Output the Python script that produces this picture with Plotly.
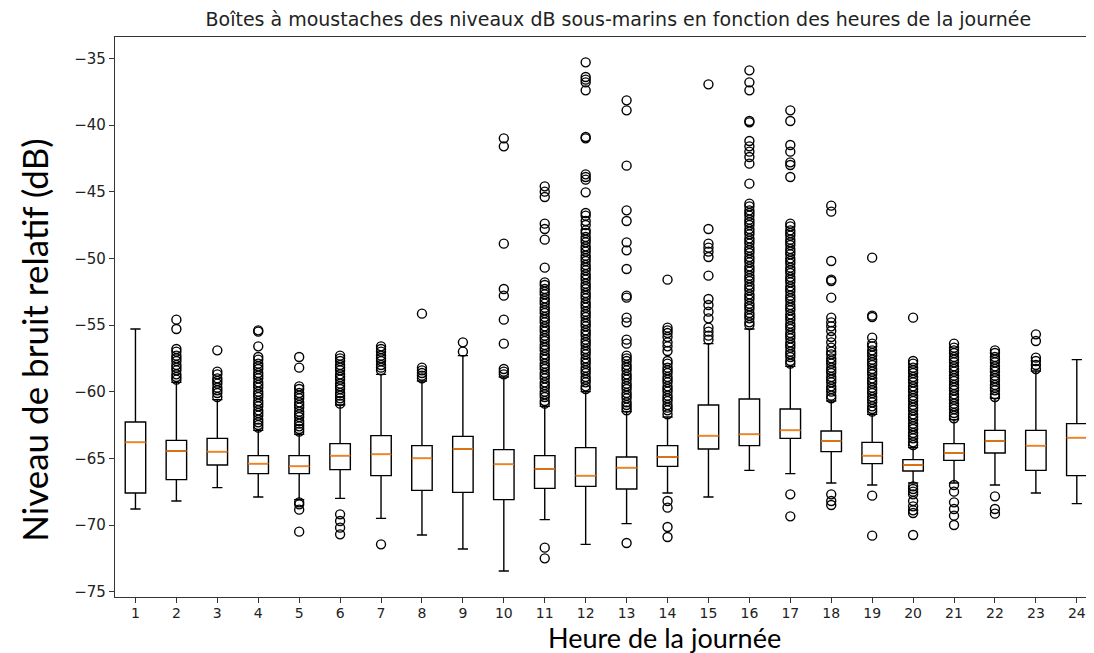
import plotly.graph_objects as go

# heures et statistiques des boîtes (dB)
hours = list(range(1, 25))
q1 = [-67.6, -66.6, -65.5, -66.15, -66.15, -65.85, -66.3, -67.4, -67.55, -68.1, -67.25, -67.1,
      -67.3, -65.6, -64.3, -64.05, -63.5, -64.5, -65.4, -65.95, -65.15, -64.6, -65.9, -66.3]
medians = [-63.8, -64.45, -64.5, -65.4, -65.6, -64.8, -64.7, -65.0, -64.3, -65.45, -65.8, -66.3,
           -65.7, -64.9, -63.3, -63.2, -62.9, -63.7, -64.8, -65.5, -64.6, -63.7, -64.05, -63.45]
q3 = [-62.27, -63.65, -63.5, -64.8, -64.8, -63.9, -63.3, -64.05, -63.35, -64.35, -64.8, -64.2,
      -64.9, -64.05, -61.0, -60.55, -61.3, -62.95, -63.8, -65.1, -63.9, -62.9, -62.9, -62.4]
whisker_low = [-68.8, -68.2, -67.2, -67.9, -68.1, -68.0, -69.5, -70.75, -71.8, -73.45, -69.6, -71.45,
               -69.9, -67.6, -67.9, -65.9, -66.15, -66.85, -67.0, -66.85, -66.85, -67.0, -67.6, -68.4]
whisker_high = [-55.3, -59.3, -60.6, -62.9, -63.2, -61.0, -58.7, -59.2, -57.3, -58.9, -61.1, -60.0,
                -61.5, -61.9, -56.4, -55.3, -58.1, -60.7, -61.7, -64.2, -62.1, -60.5, -58.45, -57.6]

# valeurs aberrantes par heure
out_1 = []
out_2 = [-54.6, -55.3, -56.8, -57.0, -57.3, -57.5, -57.7, -58.0, -58.2, -58.4, -58.7, -58.9, -59.1]
out_3 = [-56.9, -58.5, -58.7, -59.0, -59.2, -59.4, -59.7, -59.9, -60.1, -60.4]
out_4 = [-55.4, -55.5, -56.6, -57.4, -57.6, -57.9, -58.1, -58.3, -58.6, -58.8, -59.0, -59.3, -59.5,
         -59.7, -60.0, -60.2, -60.4, -60.7, -60.9, -61.1, -61.4, -61.6, -61.8, -62.1, -62.3, -62.5,
         -62.7]
out_5 = [-57.4, -58.2, -59.6, -59.8, -60.1, -60.3, -60.5, -60.8, -61.0, -61.2, -61.5, -61.7, -61.9,
         -62.2, -62.4, -62.6, -62.8, -63.0, -68.3, -68.45, -68.85, -70.5]
out_6 = [-57.3, -57.5, -57.7, -58.0, -58.2, -58.4, -58.7, -58.9, -59.1, -59.4, -59.6, -59.8, -60.1,
         -60.3, -60.5, -60.7, -60.9, -69.2, -69.7, -70.2, -70.7]
out_7 = [-56.6, -56.8, -57.0, -57.3, -57.5, -57.7, -58.0, -58.2, -58.4, -71.45]
out_8 = [-54.15, -58.2, -58.4, -58.6, -58.8, -59.0]
out_9 = [-56.3, -57.0]
out_10 = [-41.0, -41.6, -48.9, -52.3, -52.8, -54.6, -56.4, -58.3, -58.5, -58.7]
out_11 = [-44.6, -45.0, -45.4, -47.4, -47.8, -48.6, -50.7, -51.8, -52.0, -52.3, -52.5, -52.7, -53.0,
          -53.2, -53.4, -53.7, -53.9, -54.1, -54.4, -54.6, -54.8, -55.1, -55.3, -55.5, -55.8, -56.0,
          -56.2, -56.5, -56.7, -56.9, -57.2, -57.4, -57.6, -57.9, -58.1, -58.3, -58.6, -58.8, -59.0,
          -59.3, -59.5, -59.7, -60.0, -60.2, -60.4, -60.7, -60.9, -71.7, -72.5]
out_12 = [-35.3, -36.4, -36.6, -36.8, -37.4, -40.9, -41.0, -43.7, -43.9, -44.1, -45.05, -46.6,
          -46.8, -47.2, -47.5, -47.9, -48.1, -48.4, -48.6, -48.8, -49.1, -49.3, -49.5, -49.8, -50.0,
          -50.2, -50.5, -50.7, -50.9, -51.2, -51.4, -51.6, -51.9, -52.1, -52.3, -52.6, -52.8, -53.0,
          -53.3, -53.5, -53.7, -54.0, -54.2, -54.4, -54.7, -54.9, -55.1, -55.4, -55.6, -55.8, -56.1,
          -56.3, -56.5, -56.8, -57.0, -57.2, -57.5, -57.7, -57.9, -58.2, -58.4, -58.6, -58.9, -59.1,
          -59.3, -59.6, -59.8]
out_13 = [-38.15, -38.9, -43.05, -46.4, -47.2, -48.8, -49.4, -50.8, -52.8, -52.95, -54.45, -54.8,
          -56.1, -56.4, -57.3, -57.5, -57.7, -58.0, -58.2, -58.4, -58.7, -58.9, -59.1, -59.4, -59.6,
          -59.8, -60.1, -60.3, -60.5, -60.8, -61.0, -61.2, -61.4, -71.35]
out_14 = [-51.6, -55.2, -55.4, -55.6, -55.9, -56.3, -56.6, -56.95, -57.7, -57.9, -58.2, -58.4,
          -58.6, -58.9, -59.1, -59.3, -59.6, -59.8, -60.0, -60.3, -60.5, -60.7, -61.0, -61.2, -61.4,
          -61.7, -68.2, -68.7, -70.15, -70.9]
out_15 = [-36.95, -47.8, -48.9, -49.2, -49.5, -49.9, -51.3, -53.05, -53.5, -54.0, -54.5, -55.2,
          -55.5, -55.8, -56.1]
out_16 = [-35.9, -36.8, -37.4, -39.7, -39.8, -41.2, -41.6, -42.0, -42.4, -42.9, -44.4, -45.9, -46.1,
          -46.4, -46.6, -46.8, -47.1, -47.3, -47.5, -47.8, -48.0, -48.2, -48.5, -48.7, -48.9, -49.2,
          -49.4, -49.6, -49.9, -50.1, -50.3, -50.6, -50.8, -51.0, -51.3, -51.5, -51.7, -52.0, -52.2,
          -52.4, -52.7, -52.9, -53.1, -53.4, -53.6, -53.8, -54.1, -54.3, -54.5, -54.8, -55.0]
out_17 = [-38.9, -39.7, -41.5, -42.0, -42.8, -43.0, -43.9, -47.4, -47.6, -47.9, -48.1, -48.3, -48.6,
          -48.8, -49.0, -49.3, -49.5, -49.7, -50.0, -50.2, -50.4, -50.7, -50.9, -51.1, -51.4, -51.6,
          -51.8, -52.1, -52.3, -52.5, -52.8, -53.0, -53.2, -53.5, -53.7, -53.9, -54.2, -54.4, -54.6,
          -54.9, -55.1, -55.3, -55.6, -55.8, -56.0, -56.3, -56.5, -56.7, -57.0, -57.2, -57.4, -57.7,
          -57.9, -67.7, -69.35]
out_18 = [-46.05, -46.5, -50.2, -51.6, -51.7, -52.95, -54.45, -54.8, -55.1, -55.45, -55.9, -56.3,
          -56.7, -57.0, -57.2, -57.5, -57.7, -57.9, -58.2, -58.4, -58.6, -58.9, -59.1, -59.3, -59.6,
          -59.8, -60.0, -60.3, -60.5, -67.7, -68.2, -68.5]
out_19 = [-49.95, -54.3, -54.4, -55.95, -56.4, -56.6, -56.9, -57.1, -57.3, -57.6, -57.8, -58.0,
          -58.3, -58.5, -58.7, -59.0, -59.2, -59.4, -59.7, -59.9, -60.1, -60.4, -60.6, -60.8, -61.1,
          -61.3, -61.5, -67.8, -70.8]
out_20 = [-54.45, -57.7, -57.9, -58.2, -58.4, -58.6, -58.9, -59.1, -59.3, -59.6, -59.8, -60.0,
          -60.3, -60.5, -60.7, -61.0, -61.2, -61.4, -61.7, -61.9, -62.1, -62.4, -62.6, -62.8, -63.1,
          -63.3, -63.5, -63.8, -64.0, -67.1, -67.3, -67.5, -67.7, -68.2, -68.6, -68.9, -69.1, -70.75]
out_21 = [-56.4, -56.7, -56.9, -57.1, -57.4, -57.6, -57.8, -58.1, -58.3, -58.5, -58.8, -59.0, -59.2,
          -59.5, -59.7, -59.9, -60.2, -60.4, -60.6, -60.9, -61.1, -61.3, -61.6, -61.8, -62.0, -67.0,
          -67.5, -68.3, -68.8, -69.3, -70.0]
out_22 = [-56.9, -57.1, -57.4, -57.6, -57.8, -58.1, -58.3, -58.5, -58.8, -59.0, -59.2, -59.5, -59.7,
          -59.9, -60.2, -60.4, -67.85, -68.8, -69.15]
out_23 = [-55.7, -56.2, -57.45, -57.7, -58.0, -58.3]
out_24 = []

outliers = [out_1, out_2, out_3, out_4, out_5, out_6, out_7, out_8, out_9, out_10, out_11, out_12,
            out_13, out_14, out_15, out_16, out_17, out_18, out_19, out_20, out_21, out_22, out_23, out_24]

fig = go.Figure()

fig.add_trace(go.Box(
    x=hours, q1=q1, median=medians, q3=q3,
    lowerfence=whisker_low, upperfence=whisker_high,
    width=0.5, whiskerwidth=0.5,
    fillcolor='white', line=dict(color='black', width=1.4),
    boxpoints=False, hoverinfo='skip', showlegend=False
))

# médianes en orange
mx, my = [], []
for h, m in zip(hours, medians):
    mx += [h - 0.25, h + 0.25, None]
    my += [m, m, None]
fig.add_trace(go.Scatter(x=mx, y=my, mode='lines', line=dict(color='#ff7f0e', width=1.6),
                         showlegend=False, hoverinfo='skip'))

ox, oy = [], []
for h, vals in zip(hours, outliers):
    ox += [h] * len(vals)
    oy += vals
fig.add_trace(go.Scatter(
    x=ox, y=oy, mode='markers',
    marker=dict(symbol='circle-open', size=9, color='black', line=dict(width=1.4)),
    showlegend=False
))

# page body has an 8px margin, so the figure is 8px smaller than the window
fig.update_layout(
    width=1086, height=645,
    margin=dict(l=107, r=0, t=29, b=56),
    paper_bgcolor='white', plot_bgcolor='white',
    title=dict(text='Boîtes à moustaches des niveaux dB sous-marins en fonction des heures de la journée',
               x=0.562, xanchor='center', y=0.982, yanchor='middle',
               font=dict(family='DejaVu Sans', size=19, color='#222')),
    font=dict(family='DejaVu Sans', color='#222'),
)
fig.update_xaxes(
    range=[0.5, 24.42], tickmode='array', tickvals=hours, ticktext=[str(h) for h in hours],
    ticks='outside', ticklen=5, tickcolor='#333', showgrid=False, zeroline=False,
    showline=True, linecolor='#333', linewidth=1.4, mirror=True, ticklabelstandoff=-2,
    tickfont=dict(size=14, family='DejaVu Sans', color='#222'),
)
fig.update_yaxes(
    range=[-75.4, -33.4], tickvals=[-35, -40, -45, -50, -55, -60, -65, -70, -75],
    ticks='outside', ticklen=5, tickcolor='#333', showgrid=False, zeroline=False,
    showline=True, linecolor='#333', linewidth=1.4,
    tickfont=dict(size=15, family='DejaVu Sans', color='#222'),
)

# axis titles sit off-centre in the original, so they are placed as annotations
fig.add_annotation(text='Heure de la journée', xref='paper', yref='paper',
                   x=0.561, y=-0.04, xanchor='center', yanchor='top', showarrow=False,
                   font=dict(family='Lato', size=27, color='black'))
fig.add_annotation(text='Niveau de bruit relatif (dB)', xref='paper', yref='paper',
                   x=-0.083, y=0.459, xanchor='center', yanchor='middle', textangle=-90,
                   showarrow=False, font=dict(family='Lato', size=35, color='black'))

fig.write_html("out.html")
